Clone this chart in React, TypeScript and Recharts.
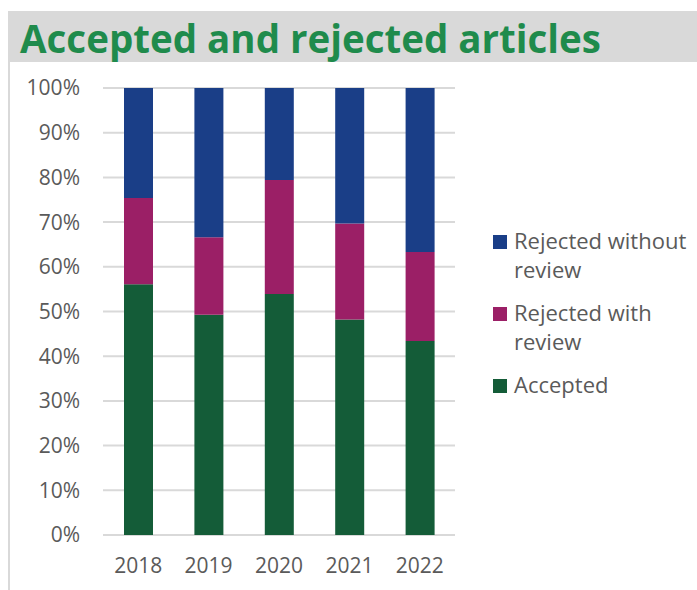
import React from 'react';
import { BarChart, Bar, XAxis, YAxis, CartesianGrid } from 'recharts';

const years = ['2018', '2019', '2020', '2021', '2022'];
const accepted = [56.1, 49.3, 53.9, 48.2, 43.4];
const rejectedWithReview = [19.3, 17.3, 25.5, 21.5, 19.9];
const rejectedWithoutReview = [24.6, 33.4, 20.6, 30.3, 36.7];
const yTicks = [0, 10, 20, 30, 40, 50, 60, 70, 80, 90, 100];

const series = [
  { key: 'accepted', name: 'Accepted', color: '#145c38', values: accepted },
  { key: 'withReview', name: 'Rejected with review', color: '#9b1f66', values: rejectedWithReview },
  { key: 'withoutReview', name: 'Rejected without review', color: '#1a3e87', values: rejectedWithoutReview },
];

const data = years.map((y, i) => {
  const row: Record<string, number | string> = { year: y };
  series.forEach((s) => {
    row[s.key] = s.values[i];
  });
  return row;
});

const FONT = '"Open Sans", sans-serif';
const TEXT = '#5a5a5a';

export default function App() {
  const legendItems = [...series].reverse();
  return (
    <div style={{ position: 'absolute', left: 0, top: 0, width: 697, height: 590, background: '#fff', fontFamily: FONT, overflow: 'hidden' }}>
      <div style={{ position: 'absolute', left: 8, top: 11, width: 689, height: 51, background: '#d9d9d9' }} />
      <div style={{ position: 'absolute', left: 8, top: 62, width: 2, height: 528, background: '#d9d9d9' }} />
      <div style={{ position: 'absolute', left: 20, top: 19, fontSize: 38.5, lineHeight: '38px', fontWeight: 700, color: '#1f8b4c', whiteSpace: 'nowrap' }}>
        Accepted and rejected articles
      </div>
      <div style={{ position: 'absolute', left: 0, top: 0 }}>
        <BarChart width={697} height={590} data={data} margin={{ top: 88, right: 242, left: 0, bottom: 0 }}>
          <CartesianGrid vertical={false} stroke="#d9d9d9" strokeWidth={2} />
          <XAxis
            dataKey="year"
            height={55}
            axisLine={false}
            tickLine={false}
            tickMargin={17}
            tick={{ fill: TEXT, fontSize: 21, fontFamily: FONT }}
          />
          <YAxis
            width={103}
            domain={[0, 100]}
            ticks={yTicks}
            interval={0}
            tickFormatter={(v: number) => `${v}%`}
            axisLine={false}
            tickLine={false}
            tickMargin={17}
            tick={{ fill: TEXT, fontSize: 21, fontFamily: FONT }}
          />
          {series.map((s) => (
            <Bar key={s.key} dataKey={s.key} name={s.name} stackId="a" fill={s.color} barSize={29} isAnimationActive={false} />
          ))}
        </BarChart>
      </div>
      <div style={{ position: 'absolute', left: 493, top: 226 }}>
        {legendItems.map((s) => (
          <div key={s.key} style={{ display: 'flex', alignItems: 'flex-start', marginBottom: 14 }}>
            <div style={{ width: 14, height: 14, background: s.color, marginTop: 9, flexShrink: 0 }} />
            <div style={{ marginLeft: 7, width: 180, fontSize: 22, lineHeight: '29px', color: TEXT }}>{s.name}</div>
          </div>
        ))}
      </div>
    </div>
  );
}
